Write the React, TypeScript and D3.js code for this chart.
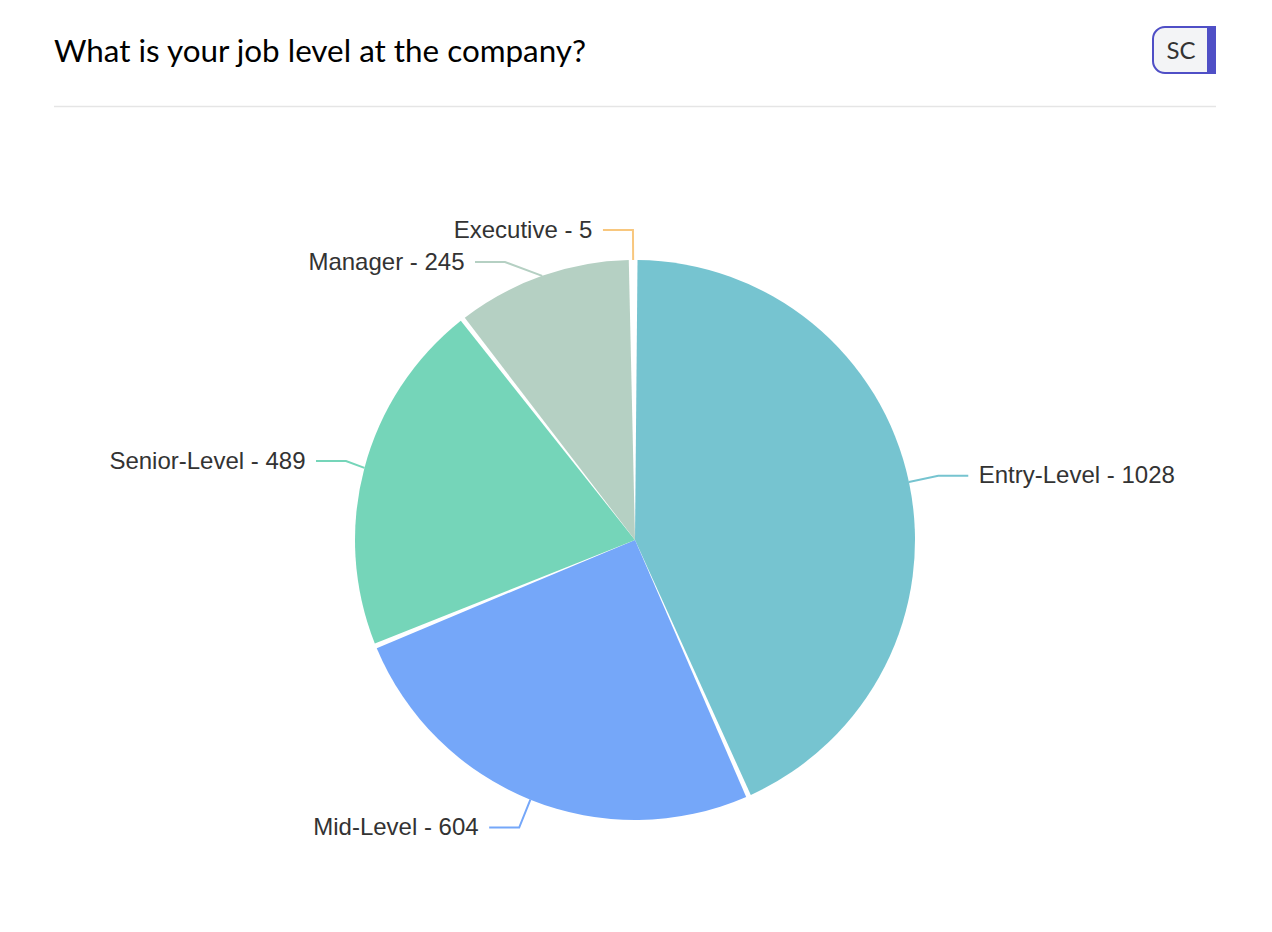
import React from 'react';
import * as d3 from 'd3';

const levels = ['Entry-Level', 'Mid-Level', 'Senior-Level', 'Manager', 'Executive'];
const counts = [1028, 604, 489, 245, 5];
const colors = ['#76c4d0', '#75a7f9', '#75d5b9', '#b5d0c3', '#f8c77e'];

// label placement the chart's overlap avoidance moved away from the plain radial spot
const elbowOverrides: Record<string, { x?: number; y?: number }> = {
    Manager: {x: 505, y: 262},
    'Senior-Level': {x: 346, y: 461},
};

const width = 1272;
const height = 932;
const cx = 635;
const cy = 540;
const radius = 280;
const lineLength = 30;
const gapAngle = 0.018; // wedge gap, wider than the Executive slice so that one disappears
const labelGap = 10.5;

interface Slice {
    name: string;
    value: number;
    color: string;
}

const slices: Slice[] = levels.map((name, i) => ({name, value: counts[i], color: colors[i]}));

const App: React.FC = () => {
    const pie = d3.pie<Slice>().value(d => d.value).sort(null);
    const arcs = pie(slices);

    const arc = d3.arc<d3.PieArcDatum<Slice>>()
        .innerRadius(0)
        .outerRadius(radius)
        .startAngle(d => d.startAngle + gapAngle / 2)
        .endAngle(d => Math.max(d.startAngle + gapAngle / 2, d.endAngle - gapAngle / 2));

    const polar = (angle: number, r: number): [number, number] => [
        cx + r * Math.sin(angle),
        cy - r * Math.cos(angle),
    ];

    return (
        <svg width={width} height={height} style={{position: 'absolute', left: 0, top: 0, background: '#fff'}}>
            <text x={54} y={62} fontFamily="Lato" fontSize={31.4} fill="#000">What is your job level at the company?</text>
            <line x1={54} x2={1216} y1={106.5} y2={106.5} stroke="#e5e5e5" strokeWidth={1.5}/>

            {/* badge */}
            <path d="M1208 27 H1165 a12 12 0 0 0 -12 12 V61 a12 12 0 0 0 12 12 H1208 Z" fill="#f3f4f6" stroke="#4f4fc6" strokeWidth={2}/>
            <rect x={1208} y={26} width={8} height={48} fill="#4f4fc6"/>
            <text x={1181} y={59} textAnchor="middle" fontFamily="Lato" fontSize={24} fill="#333">SC</text>

            <g transform={`translate(${cx},${cy})`}>
                {arcs.map(d => (
                    <path key={d.data.name} d={arc(d) ?? ''} fill={d.data.color}/>
                ))}
            </g>

            <g fontFamily="Liberation Sans" fontSize={24} fill="#333">
                {arcs.map(d => {
                    const mid = (d.startAngle + d.endAngle) / 2;
                    const onRight = mid < Math.PI;
                    const start = polar(mid, radius);
                    const radial = polar(mid, radius + lineLength);
                    const override = elbowOverrides[d.data.name] ?? {};
                    const elbow: [number, number] = [override.x ?? radial[0], override.y ?? radial[1]];
                    const end: [number, number] = [elbow[0] + (onRight ? lineLength : -lineLength), elbow[1]];
                    return (
                        <g key={d.data.name}>
                            <path d={d3.line()([start, elbow, end]) ?? ''} fill="none" stroke={d.data.color} strokeWidth={2}/>
                            <text
                                x={end[0] + (onRight ? labelGap : -labelGap)}
                                y={elbow[1]}
                                dy="0.32em"
                                textAnchor={onRight ? 'start' : 'end'}
                            >
                                {`${d.data.name} - ${d.data.value}`}
                            </text>
                        </g>
                    );
                })}
            </g>
        </svg>
    );
};

export default App;
